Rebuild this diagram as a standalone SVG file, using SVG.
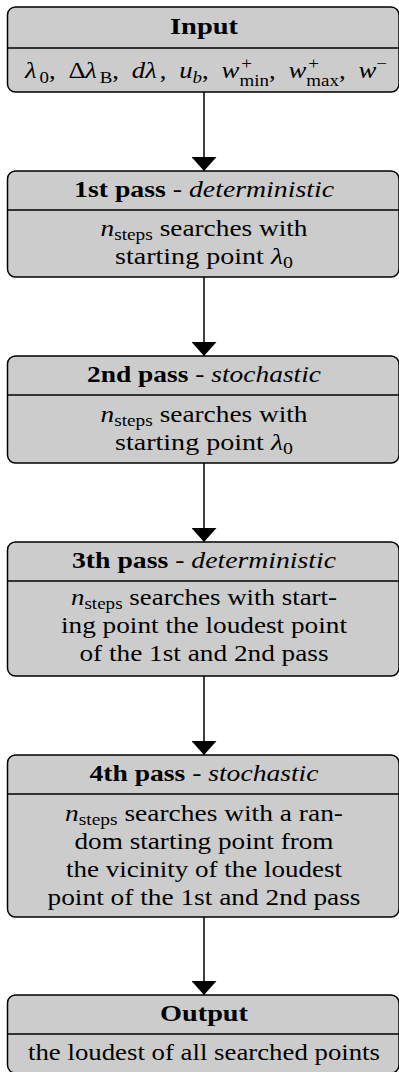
<svg xmlns="http://www.w3.org/2000/svg" width="399" height="1072" viewBox="0 0 399 1072" font-family="'Liberation Serif', 'DejaVu Serif', serif">
<style>
.box{fill:#cccccc;stroke:#000;stroke-width:1.5}
.div{stroke:#000;stroke-width:1.5}
text{font-family:'Liberation Serif','DejaVu Serif',serif;font-size:24px;fill:#000}
.c{text-anchor:middle}
.b{font-weight:bold}
.i{font-style:italic}
.sub{font-size:17px}
.conn{stroke:#000;stroke-width:1.5;fill:none}
</style>
<defs>
<marker id="ah" markerUnits="userSpaceOnUse" viewBox="0 -12.5 14 25" refX="14" refY="0" markerWidth="14" markerHeight="25" orient="auto">
<path d="M0,-12.5 L14,0 L0,12.5 Z" fill="#000"/>
</marker>
</defs>

<g id="connectors">
<line class="conn" x1="204" y1="92" x2="204" y2="171" marker-end="url(#ah)"/>
<line class="conn" x1="204" y1="277" x2="204" y2="356" marker-end="url(#ah)"/>
<line class="conn" x1="204" y1="463" x2="204" y2="542" marker-end="url(#ah)"/>
<line class="conn" x1="204" y1="676" x2="204" y2="755" marker-end="url(#ah)"/>
<line class="conn" x1="204" y1="917" x2="204" y2="995" marker-end="url(#ah)"/>
</g>

<g id="input">
<rect class="box" x="7.5" y="7" width="391.5" height="85" rx="8"/>
<line class="div" x1="7.5" y1="48" x2="399" y2="48"/>
<text class="c b" x="204" y="33.5" textLength="68" lengthAdjust="spacingAndGlyphs">Input</text>
<g transform="translate(25,0) scale(1.115,1)">
<text class="i" x="0" y="78">λ</text>
<text class="sub" x="13" y="83">0</text>
<text x="21.5" y="78">,</text>
<text x="39" y="78">Δ</text>
<text class="i" x="54" y="78">λ</text>
<text class="sub" x="67" y="83">B</text>
<text x="78.3" y="78">,</text>
<text class="i" x="95.8" y="78">d</text>
<text class="i" x="107.8" y="78">λ</text>
<text x="120.8" y="78">,</text>
<text class="i" x="138.3" y="78">u</text>
<text class="sub i" x="150.3" y="83">b</text>
<text x="158.8" y="78">,</text>
<text class="i" x="176.3" y="78">w</text>
<text class="sub" x="194" y="69">+</text>
<text class="sub" x="192.3" y="86">min</text>
<text x="218.8" y="78">,</text>
<text class="i" x="236.3" y="78">w</text>
<text class="sub" x="254" y="69">+</text>
<text class="sub" x="252.3" y="86">max</text>
<text x="281.6" y="78">,</text>
<text class="i" x="299.1" y="78">w</text>
<text class="sub" x="315.1" y="69">−</text>
</g>
</g>

<g id="pass1">
<rect class="box" x="7.5" y="171" width="391.5" height="106" rx="8"/>
<line class="div" x1="7.5" y1="210" x2="399" y2="210"/>
<text class="c" x="204" y="196.5" textLength="260" lengthAdjust="spacingAndGlyphs"><tspan class="b">1st pass</tspan> - <tspan class="i">deterministic</tspan></text>
<text class="c" x="204" y="236" textLength="207" lengthAdjust="spacingAndGlyphs"><tspan class="i">n</tspan><tspan class="sub" dy="4">steps</tspan><tspan dy="-4"> searches with</tspan></text>
<text class="c" x="204" y="264" textLength="178" lengthAdjust="spacingAndGlyphs">starting point <tspan class="i">λ</tspan><tspan class="sub" dy="4">0</tspan></text>
</g>

<g id="pass2">
<rect class="box" x="7.5" y="356" width="391.5" height="107" rx="8"/>
<line class="div" x1="7.5" y1="395" x2="399" y2="395"/>
<text class="c" x="204" y="381.5" textLength="234" lengthAdjust="spacingAndGlyphs"><tspan class="b">2nd pass</tspan> - <tspan class="i">stochastic</tspan></text>
<text class="c" x="204" y="421.5" textLength="207" lengthAdjust="spacingAndGlyphs"><tspan class="i">n</tspan><tspan class="sub" dy="4">steps</tspan><tspan dy="-4"> searches with</tspan></text>
<text class="c" x="204" y="449.5" textLength="178" lengthAdjust="spacingAndGlyphs">starting point <tspan class="i">λ</tspan><tspan class="sub" dy="4">0</tspan></text>
</g>

<g id="pass3">
<rect class="box" x="7.5" y="542" width="391.5" height="134" rx="8"/>
<line class="div" x1="7.5" y1="581" x2="399" y2="581"/>
<text class="c" x="204" y="567.5" textLength="264" lengthAdjust="spacingAndGlyphs"><tspan class="b">3th pass</tspan> - <tspan class="i">deterministic</tspan></text>
<text class="c" x="204" y="605" textLength="266" lengthAdjust="spacingAndGlyphs"><tspan class="i">n</tspan><tspan class="sub" dy="4">steps</tspan><tspan dy="-4"> searches with start-</tspan></text>
<text class="c" x="204" y="633" textLength="286" lengthAdjust="spacingAndGlyphs">ing point the loudest point</text>
<text class="c" x="204" y="661" textLength="249" lengthAdjust="spacingAndGlyphs">of the 1st and 2nd pass</text>
</g>

<g id="pass4">
<rect class="box" x="7.5" y="755" width="391.5" height="162" rx="8"/>
<line class="div" x1="7.5" y1="794" x2="399" y2="794"/>
<text class="c" x="204" y="780.5" textLength="229" lengthAdjust="spacingAndGlyphs"><tspan class="b">4th pass</tspan> - <tspan class="i">stochastic</tspan></text>
<text class="c" x="204" y="821" textLength="278" lengthAdjust="spacingAndGlyphs"><tspan class="i">n</tspan><tspan class="sub" dy="4">steps</tspan><tspan dy="-4"> searches with a ran-</tspan></text>
<text class="c" x="204" y="849" textLength="259" lengthAdjust="spacingAndGlyphs">dom starting point from</text>
<text class="c" x="204" y="877" textLength="276" lengthAdjust="spacingAndGlyphs">the vicinity of the loudest</text>
<text class="c" x="204" y="905" textLength="313" lengthAdjust="spacingAndGlyphs">point of the 1st and 2nd pass</text>
</g>

<g id="output">
<rect class="box" x="7.5" y="995" width="391.5" height="78" rx="8"/>
<line class="div" x1="7.5" y1="1034" x2="399" y2="1034"/>
<text class="c b" x="204" y="1021" textLength="88" lengthAdjust="spacingAndGlyphs">Output</text>
<text class="c" x="204" y="1060" textLength="352" lengthAdjust="spacingAndGlyphs">the loudest of all searched points</text>
</g>
</svg>
